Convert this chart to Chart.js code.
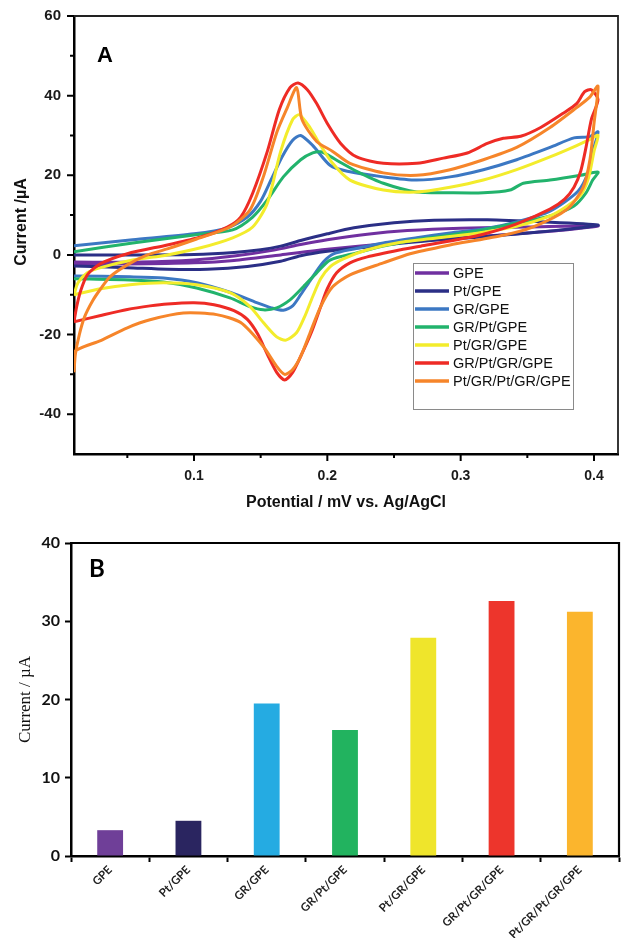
<!DOCTYPE html>
<html>
<head>
<meta charset="utf-8">
<script src="https://cdn.jsdelivr.net/npm/chart.js@4.4.0/dist/chart.umd.min.js"></script>
<style>
  html, body { margin: 0; padding: 0; background: #fff; }
  #wrap { position: relative; width: 621px; height: 938px; }
  canvas { position: absolute; left: 0; }
  #cv { top: 0; }
  #bars { top: 520px; }
</style>
</head>
<body>
<div id="wrap">
  <canvas id="cv" width="621" height="520"></canvas>
  <canvas id="bars" width="621" height="418"></canvas>
</div>
<script>
// Panel A: cyclic voltammograms, [potential V, current uA] going round each loop
// (anodic sweep 0.01 -> 0.40, then back)
const cvGPE = [[0.01,-1.8],[0.06,-1.8],[0.1,-1.3],[0.13,-0.3],[0.16,1.2],[0.18,2.6],[0.2,3.8],[0.23,5.2],[0.26,6.1],[0.3,6.7],[0.35,7],[0.403,7.3],
  [0.38,6.3],[0.35,5.5],[0.3,4.3],[0.25,3],[0.2,1.4],[0.165,0],[0.13,-1.4],[0.1,-2],[0.05,-2.3],[0.01,-2.3]];
const cvPtGPE = [[0.01,0],[0.05,0],[0.1,0.1],[0.13,0.6],[0.15,1.3],[0.165,2.2],[0.18,3.6],[0.2,5.3],[0.22,6.8],[0.25,8.1],[0.28,8.7],[0.32,8.8],[0.36,8.3],[0.403,7.5],
  [0.39,6.8],[0.37,6.1],[0.34,5.2],[0.31,4.4],[0.28,3.7],[0.255,2.9],[0.23,2],[0.2,0.9],[0.18,-0.2],[0.165,-1.6],[0.14,-2.9],[0.11,-3.6],[0.08,-3.6],[0.05,-3.2],[0.01,-2.8]];
const cvGR = [[0.01,2.3],[0.054,3.8],[0.1,5.3],[0.125,6.8],[0.14,9.5],[0.15,13.5],[0.158,19],[0.166,24.6],[0.174,28.8],[0.18,30],[0.189,27.5],[0.202,22.5],[0.215,21],[0.242,19.6],[0.267,18.8],[0.292,19.6],[0.317,21.4],[0.342,23.9],[0.367,27],[0.385,29.4],[0.397,29.7],[0.403,30.9],
  [0.4,27],[0.396,21],[0.388,16],[0.367,11],[0.342,8.3],[0.317,6.5],[0.292,5.5],[0.267,4.3],[0.242,3],[0.22,1.5],[0.205,0.3],[0.197,-1.8],[0.187,-6.5],[0.18,-10],[0.174,-12.8],[0.167,-13.9],[0.158,-13.3],[0.147,-12],[0.128,-9.5],[0.102,-7],[0.077,-5.8],[0.052,-5.5],[0.01,-5.3]];
const cvGRPt = [[0.01,0.8],[0.054,3],[0.1,5],[0.129,6.3],[0.144,9.5],[0.155,13.8],[0.167,19.6],[0.18,23.9],[0.189,25.6],[0.195,25.9],[0.2,25.2],[0.21,23.2],[0.222,21],[0.242,18],[0.267,15.8],[0.292,15.6],[0.317,15.6],[0.337,16.3],[0.347,18],[0.367,18.8],[0.39,20],[0.403,20.8],
  [0.399,18.8],[0.394,15.6],[0.385,12.3],[0.367,9.8],[0.342,8],[0.317,6.3],[0.292,5],[0.267,3.8],[0.242,2.2],[0.222,0.5],[0.202,-1.3],[0.192,-4.5],[0.182,-8],[0.172,-11.3],[0.162,-13.3],[0.152,-13.8],[0.142,-13],[0.127,-10.8],[0.102,-8.3],[0.077,-6.8],[0.052,-6.3],[0.01,-6]];
const cvPtGR = [[0.01,-10],[0.013,-7],[0.02,-4.5],[0.03,-3.2],[0.054,-1.3],[0.08,0],[0.105,1.8],[0.129,4.3],[0.144,7],[0.155,13],[0.165,26],[0.174,34],[0.179,35.2],[0.187,32],[0.194,28],[0.204,23],[0.217,18.8],[0.242,16.3],[0.267,15.8],[0.292,17],[0.317,18.8],[0.342,21.4],[0.367,24.6],[0.384,27],[0.397,29],[0.403,30],
  [0.4,26],[0.396,19.5],[0.39,15],[0.38,12.3],[0.367,9.8],[0.342,7.2],[0.317,5.7],[0.292,4.6],[0.255,3.2],[0.23,1.3],[0.212,-1],[0.202,-3],[0.195,-6],[0.189,-10.5],[0.183,-15.5],[0.177,-19.5],[0.169,-21.4],[0.162,-20.6],[0.152,-17],[0.142,-13],[0.127,-9.5],[0.102,-7.5],[0.077,-7],[0.052,-7.5],[0.03,-8.5],[0.01,-10]];
const cvGRPtGR = [[0.01,-16.8],[0.012,-13],[0.015,-9],[0.02,-5],[0.03,-2.2],[0.05,0.3],[0.08,2.5],[0.105,4.5],[0.125,7],[0.135,9.5],[0.144,15.5],[0.155,26],[0.164,36.5],[0.172,42],[0.178,43.2],[0.185,41.5],[0.192,38],[0.2,33],[0.21,28],[0.222,24.6],[0.242,23],[0.267,23],[0.287,24.3],[0.305,25.6],[0.32,28],[0.332,29.3],[0.345,29.8],[0.36,32],[0.377,35.6],[0.387,38],[0.393,41],[0.398,41.5],[0.403,39],
  [0.398,34],[0.394,27],[0.39,21],[0.385,17],[0.378,14],[0.367,11.5],[0.342,7.8],[0.317,5.2],[0.292,3.5],[0.27,2.2],[0.255,1.3],[0.23,-0.5],[0.217,-2],[0.207,-4.5],[0.2,-8.5],[0.195,-13],[0.188,-19.5],[0.18,-25.5],[0.174,-29.5],[0.168,-31.4],[0.162,-29.5],[0.155,-25],[0.148,-20],[0.14,-16.2],[0.13,-14],[0.115,-12.5],[0.1,-12],[0.08,-12.3],[0.067,-12.8],[0.05,-13.7],[0.03,-15.2],[0.01,-16.8]];
const cvPtGRPtGR = [[0.01,-29.5],[0.011,-25],[0.014,-20],[0.018,-15.5],[0.024,-11.5],[0.03,-8.5],[0.037,-5.5],[0.05,-2.5],[0.065,0],[0.08,1.5],[0.102,4],[0.127,7],[0.142,11.3],[0.152,19.6],[0.162,30.7],[0.17,37],[0.177,42],[0.181,34],[0.192,28.5],[0.204,26],[0.217,23],[0.242,20.6],[0.267,20],[0.292,21.4],[0.317,23.9],[0.342,27],[0.367,32],[0.387,37],[0.397,39.7],[0.403,42.4],
  [0.4,33],[0.397,24],[0.392,17],[0.38,11.5],[0.354,7],[0.33,4.8],[0.292,2.5],[0.275,1.3],[0.262,0.3],[0.242,-2],[0.217,-5],[0.204,-8],[0.195,-13],[0.187,-19.6],[0.18,-25.5],[0.174,-28.8],[0.168,-30],[0.162,-28],[0.152,-23],[0.135,-17],[0.117,-15],[0.092,-14.6],[0.067,-16.3],[0.05,-18.3],[0.03,-21.5],[0.01,-24.4],[0.01,-29.5]];

const cvLabels = ['GPE', 'Pt/GPE', 'GR/GPE', 'GR/Pt/GPE', 'Pt/GR/GPE', 'GR/Pt/GR/GPE', 'Pt/GR/Pt/GR/GPE'];
const cvColors = ['#7030a0', '#2b2f86', '#3c78c3', '#22b36c', '#f3ec2c', '#ee2b25', '#f6852a'];

const xMajor = [0.1, 0.2, 0.3, 0.4];
const xMinor = [0.05, 0.15, 0.25, 0.35];
const yMajor = [-40, -20, 0, 20, 40, 60];
const yMinor = [-30, -10, 10, 30, 50];

// Panel B: peak currents
const barLabels = ['GPE', 'Pt/GPE', 'GR/GPE', 'GR/Pt/GPE', 'Pt/GR/GPE', 'GR/Pt/GR/GPE', 'Pt/GR/Pt/GR/GPE'];
const barValues = [3.3, 4.5, 19.5, 16.1, 27.9, 32.6, 31.2];
const barColors = ['#6f3f98', '#2a2560', '#25abe2', '#22b35f', '#efe52b', '#ed352c', '#fbb52d'];

// top + right frame lines
const frame = {
    id: 'frame',
    afterDraw(chart, args, o) {
        const {ctx, chartArea: a} = chart;
        ctx.save();
        ctx.strokeStyle = o.color;
        ctx.lineWidth = o.width;
        ctx.beginPath();
        ctx.moveTo(a.left, a.top);
        ctx.lineTo(a.right, a.top);
        ctx.lineTo(a.right, a.bottom);
        ctx.stroke();
        ctx.restore();
    }
};

// free text: panel letters, shifted axis title
const texts = {
    id: 'texts',
    afterDraw(chart, args, o) {
        const ctx = chart.ctx;
        o.items.forEach(t => {
            ctx.save();
            ctx.fillStyle = t.color || '#000';
            ctx.font = t.font;
            ctx.translate(t.x, t.y);
            if (t.rotate) ctx.rotate(t.rotate);
            ctx.textAlign = t.align || 'left';
            ctx.textBaseline = t.baseline || 'alphabetic';
            ctx.fillText(t.text, 0, 0);
            ctx.restore();
        });
    }
};

// outward tick marks, long for labelled ticks, short for minor
const tickMarks = {
    id: 'tickMarks',
    afterDraw(chart, args, o) {
        const {ctx, chartArea: a, scales: {x, y}} = chart;
        ctx.save();
        ctx.strokeStyle = '#000';
        ctx.lineWidth = 2;
        ctx.beginPath();
        const xt = (v, len) => { const p = x.getPixelForValue(v); ctx.moveTo(p, a.bottom); ctx.lineTo(p, a.bottom + len); };
        const yt = (v, len) => { const p = y.getPixelForValue(v); ctx.moveTo(a.left, p); ctx.lineTo(a.left - len, p); };
        xMajor.forEach(v => xt(v, o.major));
        xMinor.forEach(v => xt(v, o.minor));
        yMajor.forEach(v => yt(v, o.major));
        yMinor.forEach(v => yt(v, o.minor));
        ctx.stroke();
        ctx.restore();
    }
};

// boxed legend inside the plot
const cvLegend = {
    id: 'cvLegend',
    afterDraw(chart, args, o) {
        const ctx = chart.ctx;
        ctx.save();
        ctx.fillStyle = '#fff';
        ctx.fillRect(o.x, o.y, o.w, o.h);
        ctx.strokeStyle = '#8a8a8a';
        ctx.lineWidth = 1;
        ctx.strokeRect(o.x + 0.5, o.y + 0.5, o.w, o.h);
        ctx.font = o.font;
        ctx.textBaseline = 'middle';
        chart.data.datasets.forEach((ds, i) => {
            const yy = o.y + o.first + i * o.step;
            ctx.strokeStyle = ds.borderColor;
            ctx.lineWidth = 3.5;
            ctx.beginPath();
            ctx.moveTo(o.x + 2, yy);
            ctx.lineTo(o.x + 36, yy);
            ctx.stroke();
            ctx.fillStyle = '#111';
            ctx.fillText(ds.label, o.x + 40, yy + 1);
        });
        ctx.restore();
    }
};

// keep tick-label overhang from pushing the plot area around
const noLabelPad = s => { s.paddingTop = 0; s.paddingBottom = 0; s.paddingLeft = 0; s.paddingRight = 0; };

const cvSeries = [cvGPE, cvPtGPE, cvGR, cvGRPt, cvPtGR, cvGRPtGR, cvPtGRPtGR];
const sans = 'Liberation Sans, Arial, sans-serif';

new Chart(document.getElementById('cv'), {
    type: 'line',
    data: {
        datasets: cvSeries.map((pts, i) => ({
            label: cvLabels[i],
            data: pts.map(p => ({x: p[0], y: p[1]})),
            borderColor: cvColors[i],
            borderWidth: 3,
            pointRadius: 0,
            tension: 0.25,
            fill: false,
            order: cvSeries.length - i
        }))
    },
    plugins: [tickMarks, frame, cvLegend, texts],
    options: {
        responsive: false,
        animation: false,
        layout: {padding: {top: 16, right: 3, left: 0, bottom: 0}},
        plugins: {
            legend: {display: false},
            tooltip: {enabled: false},
            tickMarks: {major: 7, minor: 4},
            frame: {color: '#222', width: 1.8},
            cvLegend: {x: 413, y: 263, w: 160, h: 146, first: 10, step: 18, font: '14.5px ' + sans},
            texts: {items: [
                {text: 'A', x: 97, y: 62, font: 'bold 22px ' + sans},
                {text: 'Current /µA', x: 26, y: 222, rotate: -Math.PI / 2, align: 'center',
                 font: 'bold 16px ' + sans, color: '#111'}
            ]}
        },
        scales: {
            x: {
                type: 'linear',
                min: 0.01,
                max: 0.418,
                afterFit: s => { s.height = 66; noLabelPad(s); },
                afterBuildTicks: s => { s.ticks = xMajor.map(v => ({value: v})); },
                grid: {drawOnChartArea: false, drawTicks: false},
                border: {display: true, width: 2.5, color: '#000'},
                ticks: {
                    callback: v => v.toFixed(1),
                    font: {family: sans, weight: 'bold', size: 14},
                    color: '#1a1a1a',
                    padding: 14,
                    autoSkip: false,
                    maxRotation: 0
                },
                title: {
                    display: true,
                    text: 'Potential / mV vs. Ag/AgCl',
                    font: {family: sans, weight: 'bold', size: 16},
                    color: '#111',
                    padding: {top: 0, bottom: 8}
                }
            },
            y: {
                min: -50,
                max: 60,
                afterFit: s => { s.width = 74; noLabelPad(s); },
                afterBuildTicks: s => { s.ticks = yMajor.map(v => ({value: v})); },
                grid: {drawOnChartArea: false, drawTicks: false},
                border: {display: true, width: 2.5, color: '#000'},
                ticks: {
                    font: {family: sans, weight: 'bold', size: 15},
                    color: '#1a1a1a',
                    padding: 13
                }
            }
        }
    }
});

new Chart(document.getElementById('bars'), {
    type: 'bar',
    data: {
        labels: barLabels,
        datasets: [{
            data: barValues,
            backgroundColor: barColors,
            barPercentage: 0.33,
            categoryPercentage: 1
        }]
    },
    plugins: [frame, texts],
    options: {
        responsive: false,
        animation: false,
        layout: {padding: {top: 23, right: 2, left: 0, bottom: 0}},
        plugins: {
            legend: {display: false},
            tooltip: {enabled: false},
            frame: {color: '#000', width: 2.2},
            texts: {items: [
                {text: 'B', x: 89, y: 57, font: 'bold 24px Lato, sans-serif'}
            ]}
        },
        scales: {
            x: {
                afterFit: s => { s.height = 82; noLabelPad(s); },
                grid: {drawOnChartArea: false, tickLength: 6, tickWidth: 2, tickColor: '#000', offset: true},
                border: {width: 2.5, color: '#000'},
                ticks: {
                    font: {family: 'Lato, sans-serif', weight: 'bold', size: 11.5},
                    color: '#222',
                    minRotation: 45,
                    maxRotation: 45,
                    autoSkip: false,
                    padding: 1
                }
            },
            y: {
                min: 0,
                max: 40,
                afterFit: s => { s.width = 71; noLabelPad(s); },
                grid: {drawOnChartArea: false, tickLength: 6, tickWidth: 2, tickColor: '#000'},
                border: {width: 2.5, color: '#000'},
                ticks: {
                    stepSize: 10,
                    font: {family: 'Lato, sans-serif', weight: 'bold', size: 16},
                    color: '#111',
                    padding: 5
                },
                title: {
                    display: true,
                    text: 'Current / µA',
                    font: {family: 'Liberation Serif, serif', size: 17},
                    color: '#111',
                    padding: {top: 15, bottom: 0}
                }
            }
        }
    }
});
</script>
</body>
</html>
